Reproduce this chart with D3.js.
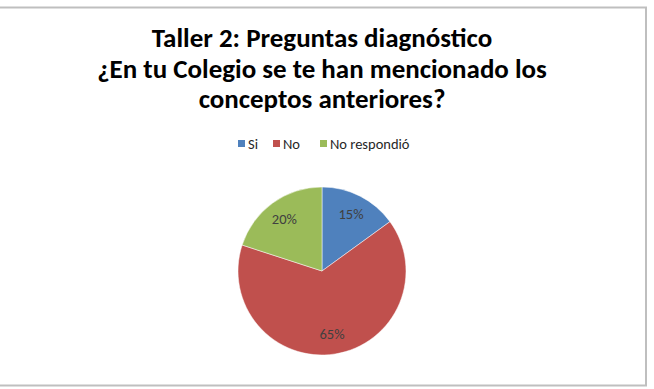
<!DOCTYPE html>
<html>
<head>
<meta charset="utf-8">
<script src="https://cdn.jsdelivr.net/npm/d3@7"></script>
<style>
  body { margin: 0; background: #fff; }
  svg { display: block; }
</style>
</head>
<body>
<svg width="654" height="389"></svg>
<script>
const titleLines = ["Taller 2: Preguntas diagnóstico", "¿En tu Colegio se te han mencionado los", "conceptos anteriores?"];
const categories = ["Si", "No", "No respondió"];
const values = [15, 65, 20];
const colors = ["#4F81BD", "#C0504D", "#9BBB59"];

const svg = d3.select("svg");
const font = "Carlito, Calibri, 'Open Sans', sans-serif";

// chart border (left edge falls outside the crop)
svg.append("rect")
    .attr("x", -5).attr("y", 7.5)
    .attr("width", 651).attr("height", 378)
    .attr("fill", "#fff")
    .attr("stroke", "#bfbfbf")
    .attr("stroke-width", 2);

// title, fitted so that the longest line spans ~450px
const title = svg.append("text")
    .attr("text-anchor", "middle")
    .attr("font-family", font)
    .attr("font-weight", "bold")
    .attr("font-size", 22)
    .attr("fill", "#000");
title.selectAll("tspan")
    .data(titleLines)
    .enter().append("tspan")
    .attr("x", 322)
    .attr("y", (d, i) => 47 + i * 30.5)
    .text(d => d);
const w = title.selectAll("tspan").nodes()[1].getComputedTextLength();
title.attr("font-size", 22 * 450 / w);

// legend
const legend = svg.append("g").attr("font-family", font).attr("font-size", 14.5);
const legendX = [238, 273, 320];
categories.forEach((c, i) => {
    const g = legend.append("g").attr("transform", `translate(${legendX[i]},140)`);
    g.append("rect").attr("width", 7).attr("height", 7).attr("fill", colors[i]);
    g.append("text").attr("x", 10).attr("y", 8.5).attr("fill", "#262626").text(c);
});

// pie
const cx = 322, cy = 271, r = 84;
const pie = d3.pie().sort(null).value(d => d);
const arc = d3.arc().innerRadius(0).outerRadius(r);
const labelArc = d3.arc().innerRadius(64).outerRadius(64);
const chart = svg.append("g").attr("transform", `translate(${cx},${cy})`);
const arcs = pie(values);

chart.selectAll("path")
    .data(arcs)
    .enter().append("path")
    .attr("d", arc)
    .attr("fill", (d, i) => colors[i])
    .attr("stroke", "#fff")
    .attr("stroke-width", 0.5);

chart.selectAll(".lbl")
    .data(arcs)
    .enter().append("text")
    .attr("class", "lbl")
    .attr("transform", d => `translate(${labelArc.centroid(d)})`)
    .attr("text-anchor", "middle")
    .attr("dy", "0.35em")
    .attr("font-family", font)
    .attr("font-size", 14.5)
    .attr("fill", "#404040")
    .text(d => d.data + "%");
</script>
</body>
</html>
